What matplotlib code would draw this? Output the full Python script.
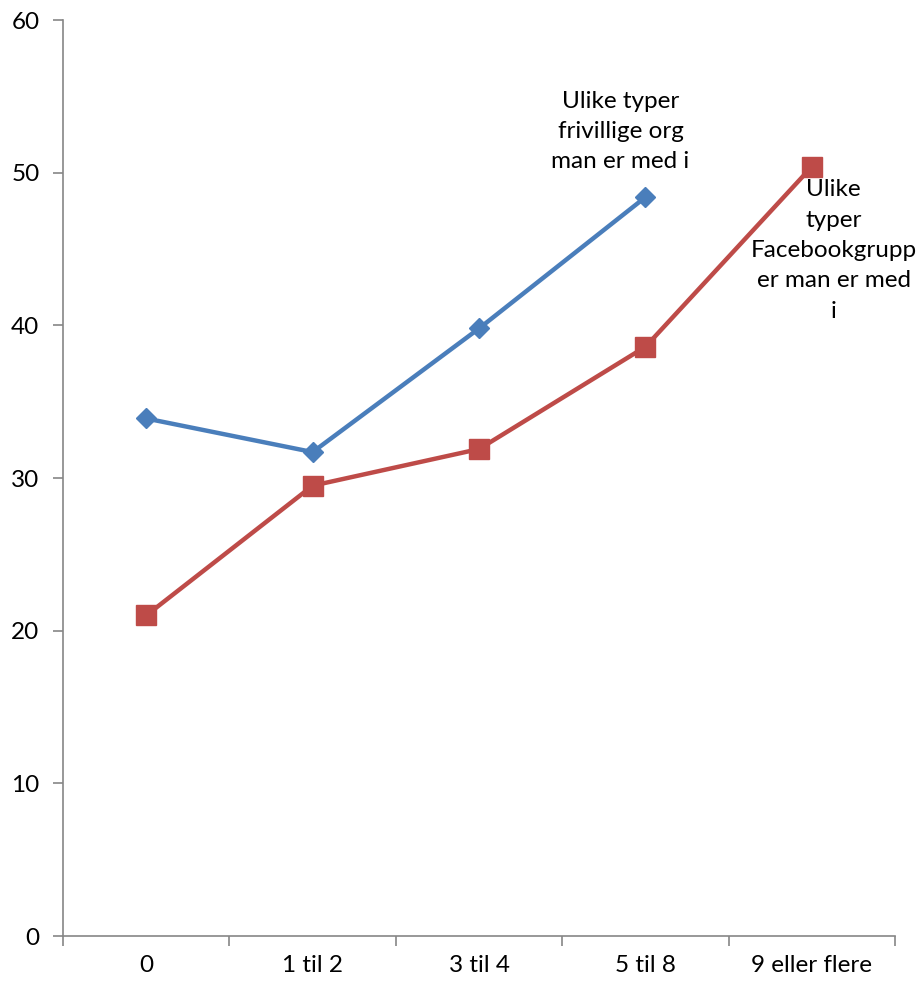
import matplotlib
matplotlib.use("Agg")
import matplotlib.pyplot as plt
import numpy as np

categories = ["0", "1 til 2", "3 til 4", "5 til 8", "9 eller flere"]
frivillige = [33.9, 31.7, 39.8, 48.4, np.nan]
facebook = [21.0, 29.5, 31.9, 38.6, 50.4]
label_friv = "Ulike typer\nfrivillige org\nman er med i"
label_fb = "Ulike\ntyper\nFacebookgrupp\ner man er med\ni"

plt.rcParams['font.family'] = ['Lato', 'DejaVu Sans']

fig = plt.figure(figsize=(9.19, 9.82), dpi=100)
ax = fig.add_axes([0.0686, 0.0468, 0.9054, 0.9328])
x = np.arange(len(categories))
ax.plot(x, frivillige, color="#4A7EBB", lw=3.2, marker="D", markersize=10.5, zorder=3)
ax.plot(x, facebook, color="#BE4B48", lw=3.2, marker="s", markersize=14, zorder=3)

ax.set_xlim(-0.5, len(categories) - 0.5)
ax.set_ylim(0, 60)
ax.set_yticks(range(0, 61, 10))
ax.set_xticks(x)
ax.set_xticklabels(categories, fontsize=17.5)
ax.set_xticks(np.arange(-0.5, len(categories), 1), minor=True)
ax.tick_params(axis="x", which="major", length=0, pad=14)
ax.tick_params(axis="x", which="minor", length=7, color="#868686", width=1.2, direction="out")
ax.tick_params(axis="y", length=7, color="#868686", width=1.2, labelsize=17.5, pad=10)
for s in ["top", "right"]:
    ax.spines[s].set_visible(False)
for s in ["left", "bottom"]:
    ax.spines[s].set_color("#868686")
    ax.spines[s].set_linewidth(1.2)

ax.text(2.85, 52.7, label_friv, ha="center", va="center", fontsize=17.5, linespacing=1.55)
ax.text(4.13, 44.9, label_fb, ha="center", va="center", fontsize=17.5, linespacing=1.55)

fig.savefig("out.png", dpi=100)
